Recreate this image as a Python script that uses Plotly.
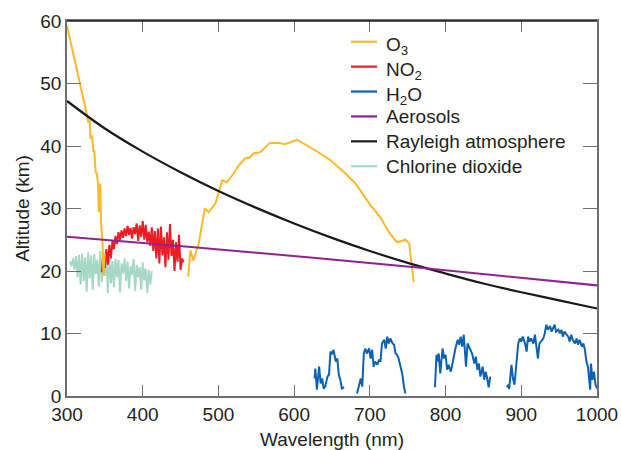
import plotly.graph_objects as go

# ---------------- data ----------------
o3_wavelength = [300, 317, 326, 328, 330, 331, 333, 335, 336, 338, 339, 341, 342, 344, 345, 347, 348, 350,
                 None,
                 460, 463, 467, 474, 482, 487, 496, 505, 511, 520, 527, 535, 542, 546, 555, 568, 580, 588,
                 604, 617, 632, 648, 666, 681, 692, 701, 714, 725, 736, 747, 752, 755, 758]
o3_altitude = [59.2, 50.2, 45.2, 43.8, 44.1, 41.2, 41.7, 39.0, 39.3, 35.6, 35.8, 34.0, 29.4, 34.0, 27.6, 24.4, 19.3, 22.8,
               None,
               19.1, 23.3, 21.7, 24.4, 30.0, 29.4, 30.8, 34.5, 34.2, 35.6, 36.9, 38.0, 38.2, 38.8, 39.0, 40.5, 40.5, 40.3,
               41.0, 40.1, 39.0, 37.7, 35.8, 34.0, 32.1, 30.5, 28.6, 26.2, 24.6, 25.0, 24.4, 21.7, 18.2]

no2_wavelength = [346, 348, 350, 352, 354, 356, 358, 360, 362, 364, 366, 368, 370, 372, 374, 376, 378, 380,
                  382, 384, 386, 388, 390, 392, 394, 396, 398, 400, 402, 404, 406, 408, 410, 412, 414, 416,
                  418, 420, 422, 424, 426, 428, 430, 432, 434, 436, 438, 440, 442, 444, 446, 448, 450, 452, 454]
no2_altitude = [19.8, 22.8, 20.5, 23.5, 21.0, 24.2, 22.0, 24.8, 23.5, 25.6, 24.3, 26.2, 25.0, 26.5, 25.3, 26.8,
                25.6, 27.2, 25.8, 26.9, 25.2, 27.0, 25.9, 27.6, 24.8, 27.3, 25.5, 28.0, 25.0, 27.4, 24.6, 26.3,
                24.0, 27.0, 23.2, 26.4, 22.0, 26.8, 21.2, 27.1, 22.5, 25.4, 20.6, 26.2, 21.8, 27.5, 22.4, 25.0,
                20.0, 24.6, 21.5, 25.8, 20.2, 22.0, 21.4]

h2o_wavelength = [627, 628, 630, 633, 635, 637, 639, 641, 644, 646, 648, 650, 652, 655, 657, 659, 661, 663, 666,
                  None,
                  683, 685, 688, 690, 692, 694, 696, 699, 701, 703, 705, 707, 710, 712, 714, 716, 719, 721, 723,
                  725, 727, 730, 732, 734, 736, 738, 741, 743, 745, 747,
                  None,
                  786, 788, 789, 791, 793, 796, 798, 800, 802, 804, 807, 809, 811, 813, 816, 818, 820, 822, 824,
                  827, 829, 831, 833, 835, 838, 840, 842, 844, 846, 849, 851, 853, 855, 857, 859,
                  None,
                  881, 883, 884, 886, 887, 889, 891, 894, 896, 898, 900, 902, 905, 907, 909, 911, 913, 916, 918,
                  920, 922, 924, 927, 929, 931, 933, 935, 938, 940, 942, 944, 946, 949, 951, 953, 955, 957, 960,
                  962, 964, 966, 968, 971, 973, 975, 977, 980, 982, 984, 986, 988, 991, 992, 994, 996, 998, 1000]
h2o_altitude = [2.8, 4.4, 1.0, 4.7, 2.0, 2.8, 1.2, 1.5, 3.1, 3.4, 7.1, 6.8, 7.4, 5.5, 6.0, 3.4, 2.6, 1.2, 1.4,
                None,
                0.4, 1.2, 2.8, 1.5, 6.8, 7.6, 6.8, 7.6, 6.0, 7.4, 4.7, 5.5, 5.0, 5.8, 5.5, 8.4, 9.0, 7.6, 9.5,
                8.4, 9.2, 8.4, 8.2, 6.8, 6.6, 6.0, 4.7, 3.4, 1.5, 0.4,
                None,
                1.4, 6.6, 5.5, 6.8, 3.6, 7.6, 6.0, 6.6, 4.2, 5.0, 3.9, 5.2, 6.8, 7.6, 9.0, 8.2, 9.5, 7.9, 9.8,
                4.7, 8.4, 7.9, 7.4, 6.8, 5.2, 6.3, 4.2, 5.2, 3.1, 4.7, 2.6, 3.9, 2.8, 1.4, 3.1,
                None,
                1.4, 1.8, 1.1, 3.6, 5.0, 2.8, 1.8, 5.8, 8.4, 9.2, 8.7, 9.5, 8.4, 7.1, 9.5, 8.7, 9.2, 8.4, 9.8,
                7.9, 6.0, 8.4, 9.0, 9.2, 10.0, 11.4, 10.6, 11.2, 10.3, 10.8, 11.4, 10.3, 10.6, 10.0, 10.6, 9.5,
                10.3, 9.8, 9.5, 8.7, 9.8, 9.0, 8.4, 9.2, 8.2, 9.0, 7.9, 8.4, 7.4, 5.5, 4.7, 1.0, 5.2, 2.6, 3.9,
                1.8, 1.2]

aerosol_wavelength = [300, 460, 770, 1000]
aerosol_altitude = [25.5, 23.9, 20.5, 17.7]

rayleigh_wavelength = [300, 350, 400, 450, 500, 550, 600, 650, 700, 750, 800, 850, 900, 950, 1000]
rayleigh_altitude = [47.2, 42.8, 39.1, 35.8, 32.8, 30.1, 27.6, 25.3, 23.2, 21.3, 19.6, 18.0, 16.6, 15.3, 14.0]

clo2_wavelength = [304, 306, 308, 310, 312, 314, 316, 318, 320, 322, 324, 326, 328, 330, 332, 334, 336, 338,
                   340, 342, 344, 346, 348, 350, 352, 354, 356, 358, 360, 362, 364, 366, 368, 370, 372, 374,
                   376, 378, 380, 382, 384, 386, 388, 390, 392, 394, 396, 398, 400, 402, 404, 406, 408, 410, 412]
clo2_altitude = [21.5, 20.8, 22.0, 20.2, 22.4, 19.0, 22.6, 17.8, 22.8, 18.4, 22.2, 16.7, 23.0, 18.8, 22.5, 17.0,
                 22.7, 19.5, 21.8, 17.5, 23.2, 18.2, 22.0, 19.2, 22.4, 16.5, 22.2, 18.0, 21.6, 17.4, 22.0, 19.0,
                 21.8, 16.6, 21.2, 19.6, 22.0, 18.4, 21.5, 17.2, 20.8, 19.4, 21.9, 16.8, 21.0, 19.0, 20.6, 17.0,
                 21.4, 18.5, 20.4, 16.5, 20.2, 17.8, 20.0]

x_ticks = [300, 400, 500, 600, 700, 800, 900, 1000]
y_ticks = [0, 10, 20, 30, 40, 50, 60]

legend_names = ["O<sub>3</sub>", "NO<sub>2</sub>", "H<sub>2</sub>O", "Aerosols",
                "Rayleigh atmosphere", "Chlorine dioxide"]
legend_colors = ["#FDB927", "#EC1C24", "#0B62B3", "#8E2391", "#1A1A1A", "#A6D9C5"]

FONT = "Liberation Sans, Arial, Helvetica, sans-serif"
TEXT = "#231F20"

fig = go.Figure()

def add(x, y, name, color, width=2.0, shape="linear"):
    fig.add_trace(go.Scatter(x=x, y=y, name=name, mode="lines",
                             line=dict(color=color, width=width, shape=shape),
                             connectgaps=False, showlegend=False, hoverinfo="skip"))

add(clo2_wavelength, clo2_altitude, legend_names[5], legend_colors[5])
add(no2_wavelength, no2_altitude, legend_names[1], legend_colors[1])
add(o3_wavelength, o3_altitude, legend_names[0], legend_colors[0])
add(h2o_wavelength, h2o_altitude, legend_names[2], legend_colors[2])
add(rayleigh_wavelength, rayleigh_altitude, legend_names[4], legend_colors[4], 2.2, "spline")
add(aerosol_wavelength, aerosol_altitude, legend_names[3], legend_colors[3], 2.0, "spline")

# hand-placed legend (paper coordinates): sample line + label per row
shapes = [dict(type="line", xref="paper", yref="paper", x0=0, x1=1, y0=1, y1=1,
               line=dict(color=TEXT, width=1.5))]
annotations = []
row_top = 0.9447      # centre of first row
row_step = 0.0664     # spacing between rows
for i, (name, col) in enumerate(zip(legend_names, legend_colors)):
    yc = row_top - i * row_step
    shapes.append(dict(type="line", xref="paper", yref="paper",
                       x0=0.5358, x1=0.585, y0=yc, y1=yc,
                       line=dict(color=col, width=2.2)))
    sub_shift = -0.012 if "<sub>" in name else 0.0
    annotations.append(dict(xref="paper", yref="paper", x=0.598, y=yc + sub_shift,
                            xanchor="left", yanchor="middle", showarrow=False,
                            text=name, font=dict(family=FONT, size=19, color=TEXT)))

fig.update_layout(
    width=621, height=450,
    margin=dict(l=67, r=24, t=21, b=54),
    paper_bgcolor="white", plot_bgcolor="white",
    font=dict(family=FONT, size=19, color=TEXT),
    showlegend=False,
    xaxis=dict(range=[300, 1000], tickvals=x_ticks, ticks="inside", ticklen=11,
               tickcolor="#6D6E70", linecolor="#6D6E70", linewidth=1.5, mirror="ticks",
               showgrid=False, zeroline=False, automargin=False,
               title=dict(text="Wavelength (nm)", font=dict(size=19), standoff=13)),
    yaxis=dict(range=[0, 60], tickvals=y_ticks, ticks="inside", ticklen=14,
               tickcolor="#6D6E70", linecolor="#6D6E70", linewidth=1.5, mirror="ticks",
               showgrid=False, zeroline=False, automargin=False,
               title=dict(text="Altitude (km)", font=dict(size=19), standoff=6)),
    shapes=shapes,
    annotations=annotations,
)

fig.write_html("out.html", config={"displayModeBar": False},
               post_script="document.body.style.margin='0px';document.body.style.overflow='hidden';")
